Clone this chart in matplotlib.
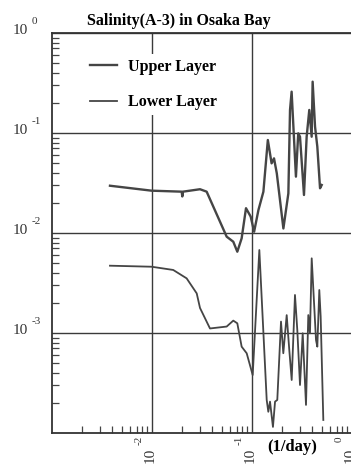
import matplotlib
matplotlib.use("Agg")
import numpy as np
import matplotlib.pyplot as plt
from matplotlib.ticker import LogLocator, NullFormatter

plt.rcParams['font.family'] = ['Liberation Serif', 'DejaVu Serif']

# spectra, frequency in 1/day
upper_freq = [0.0038, 0.0099, 0.0198, 0.0201, 0.0204, 0.0302, 0.0352, 0.0558, 0.065,
              0.0713, 0.0788, 0.0871, 0.097, 0.105, 0.116, 0.130, 0.144, 0.157, 0.166,
              0.177, 0.206, 0.231, 0.240, 0.249, 0.275, 0.290, 0.302, 0.331, 0.352,
              0.374, 0.395, 0.404, 0.427, 0.450, 0.479, 0.498]
upper_power = [0.0297, 0.0265, 0.0259, 0.0232, 0.0259, 0.0274, 0.0259, 0.00919, 0.00818,
               0.0065, 0.00885, 0.0177, 0.0146, 0.0103, 0.017, 0.0259, 0.0851, 0.0497, 0.0558,
               0.0395, 0.0111, 0.0249, 0.17, 0.259, 0.0366, 0.0993, 0.0918, 0.024, 0.0918,
               0.17, 0.0918, 0.326, 0.1156, 0.073, 0.028, 0.0302]

lower_freq = [0.0038, 0.0099, 0.0163, 0.0222, 0.028, 0.0302, 0.038, 0.0558, 0.065, 0.0713,
              0.0788, 0.0885, 0.1016, 0.1184, 0.1403, 0.1456, 0.1514, 0.162, 0.17, 0.179,
              0.195, 0.2056, 0.2223, 0.236, 0.2494, 0.269, 0.2838, 0.302, 0.3214, 0.3467,
              0.3656, 0.38, 0.3954, 0.4365, 0.45, 0.471, 0.486, 0.5166]
lower_power = [0.00471, 0.0046, 0.00427, 0.00352, 0.00249, 0.00178, 0.00111, 0.00116,
               0.00133, 0.00125, 0.00073, 0.000627, 0.00038, 0.00676, 0.000214, 0.000163,
               0.000206, 0.000115, 0.000206, 0.000214, 0.0013, 0.000627, 0.00151, 0.000676,
               0.000339, 0.0024, 0.00107, 0.000302, 0.000993, 0.000191, 0.00151, 0.000993,
               0.00558, 0.000851, 0.00073, 0.00269, 0.00146, 0.000135]

ytick_vals = [1, 0.1, 0.01, 0.001]
xtick_vals = [0.01, 0.1, 1]

PX = 0.72  # points per pixel at dpi 100
fig = plt.figure(figsize=(3.51, 4.66), dpi=100)
ax = fig.add_axes([52 / 351, 33 / 466, 310 / 351, 400 / 466])

line_col = '#454545'
ax.plot(upper_freq, upper_power, color=line_col, lw=1.7, label='Upper Layer', zorder=3)
ax.plot(lower_freq, lower_power, color=line_col, lw=1.3, label='Lower Layer', zorder=3)

ax.set_xscale('log')
ax.set_yscale('log')
ax.set_xlim(1e-3, 10 ** 0.1)
ax.set_ylim(1e-4, 1)

ax.set_yticks(ytick_vals)
ax.set_xticks(xtick_vals)
sub = [2, 3, 4, 5, 6, 7, 8, 9]
ax.xaxis.set_minor_locator(LogLocator(base=10, subs=sub, numticks=20))
ax.yaxis.set_minor_locator(LogLocator(base=10, subs=sub, numticks=20))
ax.xaxis.set_minor_formatter(NullFormatter())
ax.yaxis.set_minor_formatter(NullFormatter())
ax.tick_params(axis='both', which='major', length=0, labelleft=False, labelbottom=False)
ax.tick_params(axis='both', which='minor', direction='in', length=5, width=0.9,
               color='#444444')

ax.grid(True, which='major', color='#3a3a3a', lw=1.0, zorder=1)
for s in ['left', 'bottom', 'top']:
    ax.spines[s].set_color('#333333')
    ax.spines[s].set_linewidth(1.3)
ax.spines['right'].set_visible(False)

# old-style "10" + raised exponent labels
lab_col = '#333333'
for v in ytick_vals:
    e = int(round(np.log10(v)))
    ax.annotate('10', xy=(0, v), xycoords=('axes fraction', 'data'),
                xytext=(-39 * PX, 2 * PX), textcoords='offset points',
                ha='left', va='center', fontsize=11, color=lab_col, annotation_clip=False)
    ax.annotate(str(e), xy=(0, v), xycoords=('axes fraction', 'data'),
                xytext=(-20 * PX, 7 * PX), textcoords='offset points',
                ha='left', va='bottom', fontsize=8, color=lab_col, annotation_clip=False)

for v in xtick_vals:
    e = int(round(np.log10(v)))
    ax.annotate('10', xy=(v, 0), xycoords=('data', 'axes fraction'),
                xytext=(-2 * PX, -15 * PX), textcoords='offset points', rotation=90,
                ha='center', va='top', fontsize=11, color=lab_col, annotation_clip=False)
    ax.annotate(str(e), xy=(v, 0), xycoords=('data', 'axes fraction'),
                xytext=(-13 * PX, -3 * PX), textcoords='offset points', rotation=90,
                ha='center', va='top', fontsize=8, color=lab_col, annotation_clip=False)

leg = ax.legend(loc='upper left', bbox_to_anchor=(0.081, 0.967), frameon=True,
                facecolor='white', edgecolor='none', framealpha=1,
                prop={'weight': 'bold', 'size': 11.5}, handlelength=1.7,
                handletextpad=0.7, labelspacing=1.2, borderpad=0.3)
leg.set_zorder(4)

fig.text(179 / 351, 1 - 21 / 466, 'Salinity(A-3) in Osaka Bay', ha='center', va='center',
         fontsize=11.5, fontweight='bold')
fig.text(292 / 351, 1 - 447 / 466, '(1/day)', ha='center', va='center',
         fontsize=12, fontweight='bold')

fig.savefig('out.png', dpi=100)
